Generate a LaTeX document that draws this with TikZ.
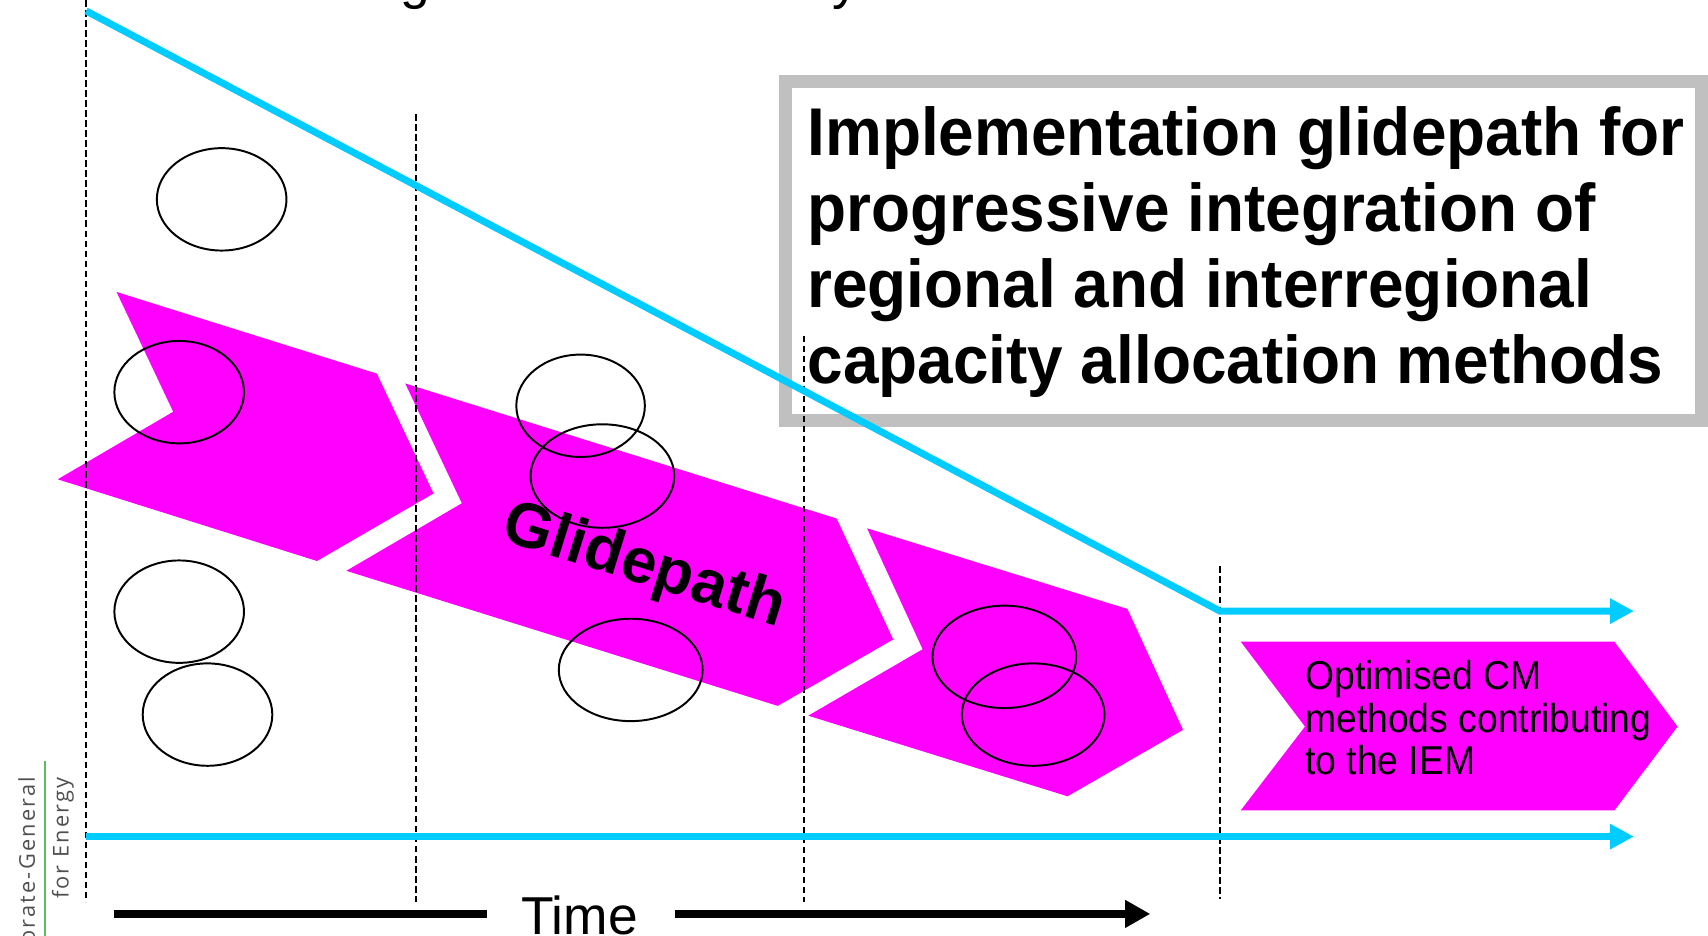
\documentclass[tikz,border=0pt]{standalone}
\usepackage{fontspec}
\setmainfont{Liberation Sans}
\newfontfamily\logofont[LetterSpace=10]{Open Sans}
\usetikzlibrary{arrows.meta}
\definecolor{gpmag}{HTML}{FF00FF}
\definecolor{gpblue}{HTML}{00CCFF}
\definecolor{gpgray}{HTML}{C0C0C0}
\definecolor{gpgreen}{HTML}{5DBB63}
\definecolor{logotext}{HTML}{505050}
\begin{document}
\begin{tikzpicture}[x=0.5pt,y=-0.5pt,
  chev/.style={fill=gpmag},
  oval/.style={draw=black,line width=0.9pt},
  vdash/.style={draw=black,line width=0.85pt,dash pattern=on 3pt off 1.6pt},
  blueline/.style={draw=gpblue,line width=3.2pt},
  bluearrow/.style={blueline,-{Triangle[length=11pt,width=11pt]}},
  timebar/.style={draw=black,line width=4pt},
  timearrow/.style={timebar,-{Triangle[length=11.5pt,width=12pt]}},
  titlebox/.style={draw=gpgray,line width=6pt,fill=white},
  titletext/.style={inner sep=0pt,align=left,anchor=north west,xscale=0.946,
    font=\bfseries\fontsize{31pt}{35pt}\selectfont},
  glidetext/.style={inner sep=0pt,rotate=-17.4,font=\bfseries\fontsize{29pt}{33pt}\selectfont},
  opttext/.style={inner sep=0pt,align=left,anchor=north west,xscale=0.925,
    font=\fontsize{18.5pt}{19.5pt}\selectfont},
  timetext/.style={inner sep=0pt,anchor=base,font=\fontsize{24.5pt}{28pt}\selectfont},
  toptext/.style={inner sep=0pt,anchor=base west,font=\fontsize{24.5pt}{28pt}\selectfont},
  logo/.style={rotate=90,inner sep=0pt,anchor=base east,text=logotext,
    font=\logofont\fontsize{10pt}{11pt}\selectfont}]
\useasboundingbox (0,0) rectangle (1568,859);
\clip (0,0) rectangle (1568,859);

% title box
\draw[titlebox] (721,75) rectangle (1562,386);

% chevrons
\fill[chev] (107,268) -- (346,343) -- (398,453) -- (291,515) -- (53,440) -- (159,378) -- cycle;
\fill[chev] (372,352) -- (768,476) -- (820,587) -- (714,648) -- (318,524) -- (424,462) -- cycle;
\fill[chev] (796,485) -- (1035,559) -- (1086,670) -- (980,731) -- (742,657) -- (847,596) -- cycle;
\fill[chev] (1139,589) -- (1482,589) -- (1540,667) -- (1482,744) -- (1139,744) -- (1198,667) -- cycle;

% ellipses
\draw[oval] (203.5,183) ellipse [x radius=29.75pt, y radius=23.5pt];
\draw[oval] (164.5,360) ellipse [x radius=29.75pt, y radius=23.5pt];
\draw[oval] (164.5,561.5) ellipse [x radius=29.75pt, y radius=23.5pt];
\draw[oval] (190.5,656) ellipse [x radius=29.75pt, y radius=23.5pt];
\draw[oval] (533,372.5) ellipse [x radius=29.5pt, y radius=23.5pt];
\draw[oval] (553,437) ellipse [x radius=33pt, y radius=23.75pt];
\draw[oval] (579,615) ellipse [x radius=33pt, y radius=23.5pt];
\draw[oval] (922,603) ellipse [x radius=33pt, y radius=23.5pt];
\draw[oval] (948.5,656) ellipse [x radius=32.75pt, y radius=23.5pt];

% dashed time markers
\coordinate (d1a) at (79,0);     \coordinate (d1b) at (79,828);
\coordinate (d2a) at (382,105);  \coordinate (d2b) at (382,828);
\coordinate (d3a) at (738,308);  \coordinate (d3b) at (738,828);
\coordinate (d4a) at (1120,520); \coordinate (d4b) at (1120,825);
\draw[vdash] (d1a) -- (d1b);
\draw[vdash] (d2a) -- (d2b);
\draw[vdash] (d3a) -- (d3b);
\draw[vdash] (d4a) -- (d4b);

% blue lines
\coordinate (b0) at (79,10);
\coordinate (b1) at (1120,561);
\coordinate (b2) at (1500,561);
\coordinate (c0) at (79,768);
\coordinate (c1) at (1500,768);
\draw[bluearrow] (b0) -- (b1) -- (b2);
\draw[bluearrow] (c0) -- (c1);

% texts
\node[titletext] (title) at (741,97) {Implementation glidepath for\\progressive integration of\\regional and interregional\\capacity allocation methods};
\node[glidetext] (glide) at (591,521) {Glidepath};
\node[opttext] (opt) at (1198,606) {Optimised CM\\methods contributing\\to the IEM};

% time axis
\node[timetext] (time) at (532,858) {Time};
\coordinate (t0) at (105,839);
\coordinate (t1) at (447,839);
\coordinate (t2) at (620,839);
\coordinate (t3) at (1056,839);
\draw[timebar] (t0) -- (t1);
\draw[timearrow] (t2) -- (t3);

% cut-off heading at the top
\node[toptext] (topg) at (367,-1) {g};
\node[toptext] (topy) at (764,-1) {y};

% logo at bottom left
\coordinate (g0) at (41,699);
\coordinate (g1) at (41,859);
\draw[gpgreen,line width=0.8pt] (g0) -- (g1);
\node[logo] (logoA) at (32,713) {orate-General};
\node[logo] (logoB) at (63,713) {for Energy};
\end{tikzpicture}
\end{document}
